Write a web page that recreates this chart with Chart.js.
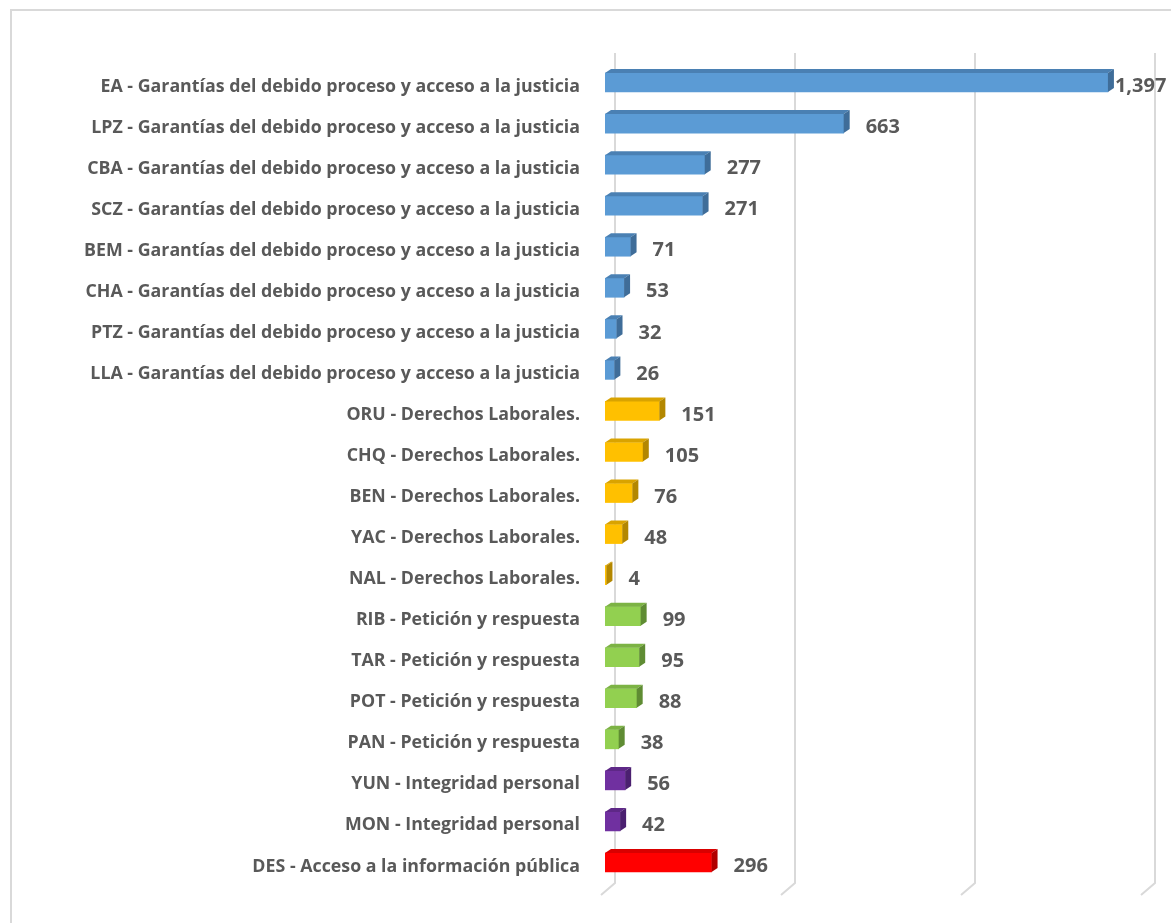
<!DOCTYPE html>
<html>
<head>
<meta charset="utf-8">
<script src="https://cdn.jsdelivr.net/npm/chart.js@4.4.1/dist/chart.umd.min.js"></script>
<style>
  body { margin: 0; background: #ffffff; overflow: hidden; }
  .marco { position: absolute; left: 10px; top: 9px; width: 1300px; height: 1100px; border: 2px solid #d9d9d9; }
  .lienzo { position: absolute; left: 0; top: 0; width: 1171px; height: 923px; }
</style>
</head>
<body>
<div class="marco"></div>
<div class="lienzo"><canvas id="grafico"></canvas></div>
<script>
// Categorías (de arriba a abajo)
const categorias = [
    'EA - Garantías del debido proceso y acceso a la justicia',
    'LPZ - Garantías del debido proceso y acceso a la justicia',
    'CBA - Garantías del debido proceso y acceso a la justicia',
    'SCZ - Garantías del debido proceso y acceso a la justicia',
    'BEM - Garantías del debido proceso y acceso a la justicia',
    'CHA - Garantías del debido proceso y acceso a la justicia',
    'PTZ - Garantías del debido proceso y acceso a la justicia',
    'LLA - Garantías del debido proceso y acceso a la justicia',
    'ORU - Derechos Laborales.',
    'CHQ - Derechos Laborales.',
    'BEN - Derechos Laborales.',
    'YAC - Derechos Laborales.',
    'NAL - Derechos Laborales.',
    'RIB - Petición y respuesta',
    'TAR - Petición y respuesta',
    'POT - Petición y respuesta',
    'PAN - Petición y respuesta',
    'YUN - Integridad personal',
    'MON - Integridad personal',
    'DES - Acceso a la información pública'
];

const valores = [1397, 663, 277, 271, 71, 53, 32, 26, 151, 105, 76, 48, 4, 99, 95, 88, 38, 56, 42, 296];

const ticksX = [0, 500, 1000, 1500];

// Colores por tema [frente, arriba, lado]
const coloresTema = {
    'Garantías del debido proceso y acceso a la justicia': ['#5b9bd5', '#4a80b3', '#3f6d99'],
    'Derechos Laborales.': ['#ffc000', '#d9a300', '#b38700'],
    'Petición y respuesta': ['#92d050', '#7cb344', '#5f8c33'],
    'Integridad personal': ['#7030a0', '#5e2887', '#4b2070'],
    'Acceso a la información pública': ['#ff0000', '#d90000', '#b00000']
};
const colorTema = (cat, i) => coloresTema[cat.split(' - ')[1]][i];

const PROF_X = 6, PROF_Y = 4;   // profundidad de las barras
const PARED_X = 10;              // desplazamiento de la pared del fondo

// Cuadrícula en perspectiva
const pluginPared = {
    id: 'pared',
    beforeDatasetsDraw(chart) {
        const { ctx, scales: { x }, chartArea } = chart;
        ctx.save();
        ctx.strokeStyle = '#d9d9d9';
        ctx.lineWidth = 2;
        ticksX.forEach(t => {
            const px = x.getPixelForValue(t) + PARED_X;
            ctx.beginPath();
            ctx.moveTo(px, 53);
            ctx.lineTo(px, chartArea.bottom);
            ctx.lineTo(px - 14, chartArea.bottom + 12);
            ctx.stroke();
        });
        ctx.restore();
    }
};

// Caras 3D y etiquetas de valor
const pluginBarras3D = {
    id: 'barras3d',
    afterDatasetsDraw(chart) {
        const { ctx } = chart;
        const meta = chart.getDatasetMeta(0);
        ctx.save();
        meta.data.forEach((bar, i) => {
            const { x, y, base, height } = bar.getProps(['x', 'y', 'base', 'height'], true);
            const top = y - height / 2, bottom = y + height / 2;
            // cara superior
            ctx.fillStyle = colorTema(categorias[i], 1);
            ctx.beginPath();
            ctx.moveTo(base, top);
            ctx.lineTo(base + PROF_X, top - PROF_Y);
            ctx.lineTo(x + PROF_X, top - PROF_Y);
            ctx.lineTo(x, top);
            ctx.closePath();
            ctx.fill();
            // cara lateral
            ctx.fillStyle = colorTema(categorias[i], 2);
            ctx.beginPath();
            ctx.moveTo(x, top);
            ctx.lineTo(x + PROF_X, top - PROF_Y);
            ctx.lineTo(x + PROF_X, bottom - PROF_Y);
            ctx.lineTo(x, bottom);
            ctx.closePath();
            ctx.fill();

            // etiqueta
            const texto = valores[i].toLocaleString('en-US');
            ctx.font = 'bold 20px "Open Sans"';
            ctx.fillStyle = '#595959';
            ctx.textBaseline = 'middle';
            ctx.textAlign = 'left';
            let tx = x + 22;
            const w = ctx.measureText(texto).width;
            if (tx + w > chart.width - 2) tx = x + PROF_X + 1;
            ctx.fillText(texto, tx, y + 4);
        });
        ctx.restore();
    }
};

const ctx = document.getElementById('grafico').getContext('2d');
new Chart(ctx, {
    type: 'bar',
    data: {
        labels: categorias,
        datasets: [{
            data: valores,
            backgroundColor: categorias.map(c => colorTema(c, 0)),
            borderWidth: 0,
            barThickness: 19
        }]
    },
    options: {
        indexAxis: 'y',
        responsive: true,
        maintainAspectRatio: false,
        animation: false,
        layout: { padding: { left: 0, right: 26, top: 62, bottom: 40 } },
        plugins: {
            legend: { display: false },
            tooltip: { enabled: false }
        },
        scales: {
            x: {
                min: 0,
                max: 1500,
                display: false
            },
            y: {
                grid: { display: false, drawTicks: false },
                border: { display: false },
                afterFit(s) { s.width = 605; },
                ticks: {
                    padding: 25,
                    labelOffset: 4,
                    color: '#595959',
                    font: { family: 'Open Sans', weight: 'bold', size: 17.8 }
                }
            }
        }
    },
    plugins: [pluginPared, pluginBarras3D]
});
</script>
</body>
</html>
